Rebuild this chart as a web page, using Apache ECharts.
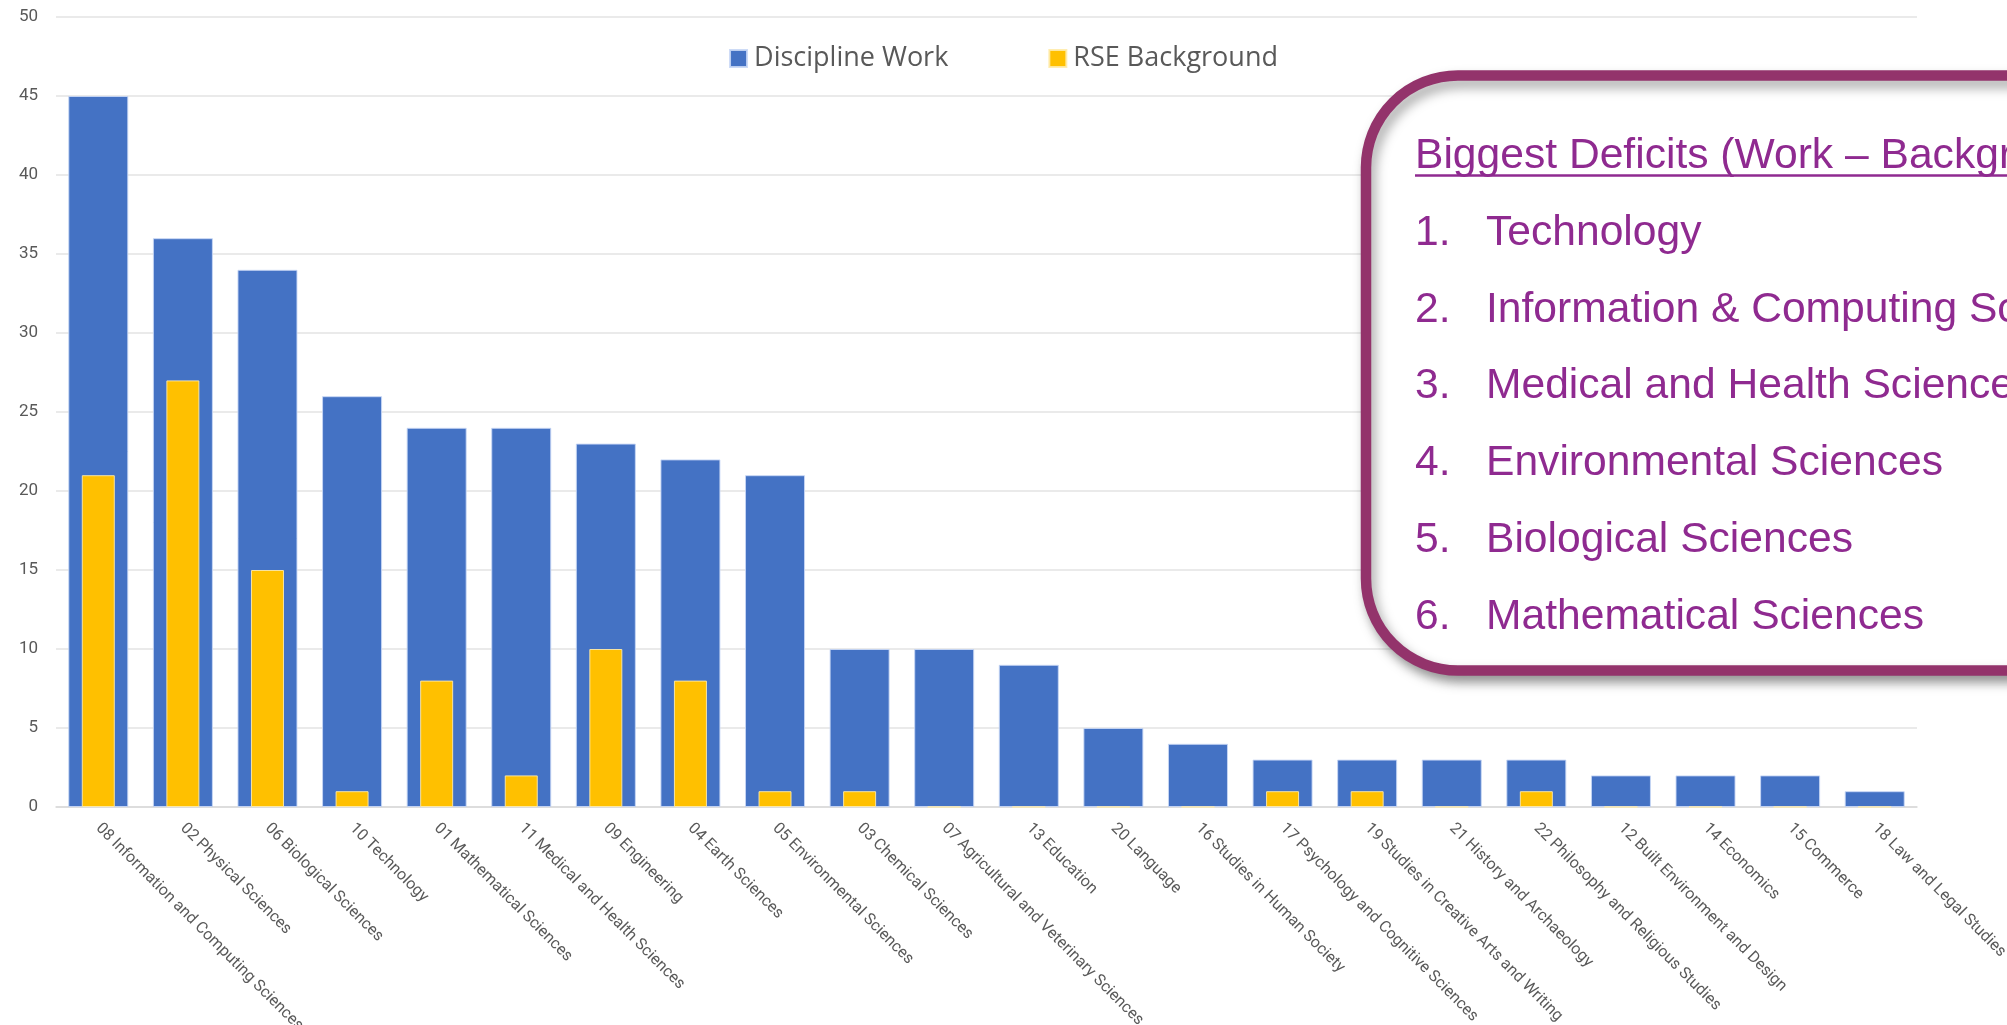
<!DOCTYPE html>
<html>
<head>
<meta charset="utf-8">
<script src="https://cdn.jsdelivr.net/npm/echarts@6/dist/echarts.min.js"></script>
<style>
html,body{margin:0;padding:0;background:#fff;overflow:hidden;}
#chart{width:2007px;height:1025px;}
</style>
</head>
<body>
<div id="chart"></div>
<script>
const categories = [
  '08 Information and Computing Sciences',
  '02 Physical Sciences',
  '06 Biological Sciences',
  '10 Technology',
  '01 Mathematical Sciences',
  '11 Medical and Health Sciences',
  '09 Engineering',
  '04 Earth Sciences',
  '05 Environmental Sciences',
  '03 Chemical Sciences',
  '07 Agricultural and Veterinary Sciences',
  '13 Education',
  '20 Language',
  '16 Studies in Human Society',
  '17 Psychology and Cognitive Sciences',
  '19 Studies in Creative Arts and Writing',
  '21 History and Archaeology',
  '22 Philosophy and Religious Studies',
  '12 Built Environment and Design',
  '14 Economics',
  '15 Commerce',
  '18 Law and Legal Studies'
];
const disciplineWork = [45, 36, 34, 26, 24, 24, 23, 22, 21, 10, 10, 9, 5, 4, 3, 3, 3, 3, 2, 2, 2, 1];
const rseBackground  = [21, 27, 15, 1, 8, 2, 10, 8, 1, 1, 0, 0, 0, 0, 1, 1, 0, 1, 0, 0, 0, 0];
const yTicks = { min: 0, max: 50, interval: 5 };
const calloutTitle = 'Biggest Deficits (Work \u2013 Background)';
const deficitItems = [
  'Technology',
  'Information & Computing Sciences',
  'Medical and Health Sciences',
  'Environmental Sciences',
  'Biological Sciences',
  'Mathematical Sciences'
];

const chart = echarts.init(document.getElementById('chart'), null, { renderer: 'canvas' });

const textColor = '#8F2A90';
const calloutFont = '"Liberation Sans", Arial, Helvetica, sans-serif';
const fontPx = 42.6;
const graphics = [];
graphics.push({
  type: 'rect', z: 100,
  shape: { x: 1366, y: 75.5, width: 800, height: 595, r: 92 },
  style: {
    fill: '#ffffff', stroke: '#93336B', lineWidth: 10.5,
    shadowBlur: 12, shadowOffsetX: 4, shadowOffsetY: 7, shadowColor: 'rgba(0,0,0,0.35)'
  }
});
graphics.push({
  type: 'text', z: 101, x: 1415, y: 169 - 13,
  style: { text: calloutTitle, font: fontPx + 'px ' + calloutFont, fill: textColor, textVerticalAlign: 'middle', verticalAlign: 'middle' }
});
graphics.push({
  type: 'line', z: 101,
  shape: { x1: 1415, y1: 175.5, x2: 2010, y2: 175.5 },
  style: { stroke: textColor, lineWidth: 2.5 }
});
deficitItems.forEach(function (t, i) {
  const yb = 244 + i * 76.8 - 11;
  graphics.push({
    type: 'text', z: 101, x: 1415, y: yb,
    style: { text: (i + 1) + '.', font: fontPx + 'px ' + calloutFont, fill: textColor, textVerticalAlign: 'middle', verticalAlign: 'middle' }
  });
  graphics.push({
    type: 'text', z: 101, x: 1486, y: yb,
    style: { text: t, font: fontPx + 'px ' + calloutFont, fill: textColor, textVerticalAlign: 'middle', verticalAlign: 'middle' }
  });
});

const option = {
  animation: false,
  backgroundColor: '#ffffff',
  textStyle: { fontFamily: 'Roboto, "Open Sans", sans-serif' },
  legend: {
    left: 'center', top: 40,
    itemWidth: 17, itemHeight: 17, itemGap: 100,
    icon: 'rect',
    textStyle: { fontSize: 27, color: '#595959', fontFamily: '"Open Sans", sans-serif', padding: [0, 0, 0, 2] },
    data: ['Discipline Work', 'RSE Background']
  },
  grid: { left: 56, right: 90, top: 17, bottom: 218, containLabel: false, outerBoundsMode: 'none' },
  xAxis: [
    {
      type: 'category', data: categories,
      axisTick: { show: false },
      axisLine: { lineStyle: { color: '#d9d9d9', width: 1.5 } },
      axisLabel: { interval: 0, rotate: -45, margin: 19, fontSize: 16, color: '#595959', fontFamily: 'Roboto, sans-serif' }
    },
    {
      type: 'category', data: categories, show: false
    }
  ],
  yAxis: {
    type: 'value', min: yTicks.min, max: yTicks.max, interval: yTicks.interval,
    axisLine: { show: false }, axisTick: { show: false },
    axisLabel: { fontSize: 17, color: '#595959', margin: 18, fontFamily: 'Roboto, sans-serif' },
    splitLine: { lineStyle: { color: '#e3e3e3', width: 1.5 } }
  },
  series: [
    {
      name: 'Discipline Work', type: 'bar', xAxisIndex: 0, data: disciplineWork,
      barWidth: 60,
      itemStyle: { color: '#4472C4', borderColor: 'rgba(200,215,245,0.9)', borderWidth: 1 }
    },
    {
      name: 'RSE Background', type: 'bar', xAxisIndex: 1, data: rseBackground,
      barWidth: 33,
      itemStyle: { color: '#FFC000', borderColor: 'rgba(255,235,170,0.9)', borderWidth: 1 }
    }
  ],
  graphic: { elements: graphics }
};
chart.setOption(option);
</script>
</body>
</html>
